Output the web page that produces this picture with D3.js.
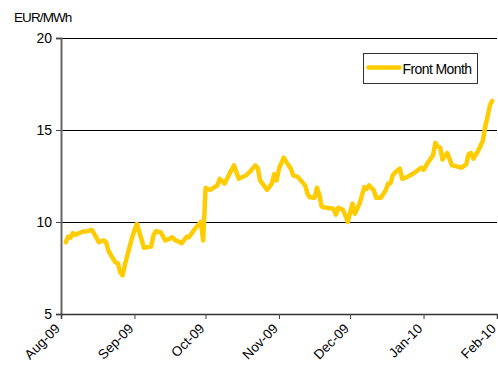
<!DOCTYPE html>
<html>
<head>
<meta charset="utf-8">
<title>Front Month</title>
<script src="https://cdn.jsdelivr.net/npm/d3@7"></script>
<style>
  body { margin: 0; background: #fff; }
  text { font-family: "Liberation Sans", Arial, sans-serif; fill: #000; }
</style>
</head>
<body>
<div id="chart"></div>
<script>
// daily front month price
var dates = ["2009-08-03","2009-08-04","2009-08-05","2009-08-06","2009-08-07","2009-08-10","2009-08-12","2009-08-14",
  "2009-08-15","2009-08-16","2009-08-17","2009-08-19","2009-08-20","2009-08-21","2009-08-23","2009-08-24","2009-08-25",
  "2009-08-26","2009-08-27","2009-08-28","2009-08-31","2009-09-02","2009-09-05","2009-09-08","2009-09-09","2009-09-10",
  "2009-09-12","2009-09-14","2009-09-16","2009-09-17","2009-09-18","2009-09-21","2009-09-23","2009-09-24","2009-09-26",
  "2009-09-28","2009-09-29","2009-09-30","2009-10-01","2009-10-03","2009-10-06","2009-10-07","2009-10-09","2009-10-11",
  "2009-10-13","2009-10-15","2009-10-18","2009-10-20","2009-10-22","2009-10-23","2009-10-24","2009-10-27","2009-10-29",
  "2009-10-30","2009-10-31","2009-11-01","2009-11-03","2009-11-05","2009-11-06","2009-11-07","2009-11-09","2009-11-12",
  "2009-11-13","2009-11-14","2009-11-16","2009-11-17","2009-11-18","2009-11-19","2009-11-21","2009-11-24","2009-11-25",
  "2009-11-26","2009-11-28","2009-11-29","2009-11-30","2009-12-02","2009-12-03","2009-12-05","2009-12-07","2009-12-08",
  "2009-12-09","2009-12-11","2009-12-12","2009-12-14","2009-12-16","2009-12-17","2009-12-18","2009-12-19","2009-12-20",
  "2009-12-22","2009-12-23","2009-12-25","2009-12-28","2009-12-31","2010-01-01","2010-01-03","2010-01-05","2010-01-06",
  "2010-01-07","2010-01-08","2010-01-09","2010-01-11","2010-01-13","2010-01-15","2010-01-17","2010-01-19","2010-01-20",
  "2010-01-21","2010-01-22","2010-01-24","2010-01-26","2010-01-27","2010-01-28","2010-01-29","2010-01-30"];
var prices = [8.9,9.2,9.15,9.4,9.3,9.47,9.5,9.57,
  9.35,9.13,8.9,9.0,8.9,8.45,8.0,7.8,7.75,
  7.26,7.1,7.7,9.17,9.9,8.6,8.67,9.26,9.5,
  9.45,9.0,9.1,9.17,9.03,8.85,9.2,9.17,9.54,
  9.86,10.0,9.0,11.85,11.75,11.99,12.35,12.08,12.6,
  13.08,12.35,12.53,12.77,13.08,12.95,12.26,11.75,12.1,
  12.6,12.26,12.9,13.5,13.08,12.9,12.53,12.44,11.99,
  11.54,11.35,11.32,11.86,11.5,10.84,10.77,10.72,10.4,
  10.77,10.66,10.35,10.0,11.0,10.45,11.0,11.9,11.8,
  11.99,11.72,11.32,11.32,11.72,12.08,12.1,12.53,12.7,
  12.9,12.35,12.44,12.66,12.95,12.84,13.26,13.62,14.3,
  14.1,14.05,13.4,13.75,13.08,13.02,12.95,13.13,13.68,
  13.75,13.44,13.86,14.4,15.17,15.7,16.35,16.58];
var monthTicks = ["2009-08-01","2009-09-01","2009-10-01","2009-11-01","2009-12-01","2010-01-01","2010-02-01"];
var yTicks = [5, 10, 15, 20];
var seriesName = "Front Month";
var unitLabel = "EUR/MWh";

var margin = {top: 38, right: 1, bottom: 66, left: 61},
    width = 498 - margin.left - margin.right,
    height = 380 - margin.top - margin.bottom;

var parse = d3.timeParse("%Y-%m-%d");
var data = dates.map(function(d, i) { return {date: parse(d), value: prices[i]}; });

var svg = d3.select("#chart").append("svg")
    .attr("width", 498)
    .attr("height", 380);

var g = svg.append("g")
    .attr("transform", "translate(" + margin.left + "," + margin.top + ")");

var xScale = d3.scaleTime()
    .domain([parse(monthTicks[0]), parse(monthTicks[monthTicks.length - 1])])
    .range([0, width]);
var yScale = d3.scaleLinear().domain([5, 20]).range([height, 0]);

// horizontal grid lines
g.append("g").selectAll("line")
  .data(yTicks.filter(function(v) { return v > 5; }))
  .enter().append("line")
    .attr("x1", 0).attr("x2", width)
    .attr("y1", function(v) { return Math.round(yScale(v)) + 0.5; })
    .attr("y2", function(v) { return Math.round(yScale(v)) + 0.5; })
    .attr("stroke", "#000").attr("stroke-width", 1);

var yAxis = d3.axisLeft(yScale).tickValues(yTicks).tickSize(5).tickPadding(4);
var gy = g.append("g").call(yAxis);
gy.selectAll("text").style("font-size", "14px");
gy.select(".domain").attr("stroke", "#666").attr("stroke-width", 2);
gy.selectAll(".tick line").attr("stroke", "#444");

var xAxis = d3.axisBottom(xScale)
    .tickValues(monthTicks.map(parse))
    .tickFormat(d3.timeFormat("%b-%y"))
    .tickSize(5);
var gx = g.append("g").attr("transform", "translate(0," + height + ")").call(xAxis);
gx.select(".domain").attr("stroke", "#333").attr("stroke-width", 1.5);
gx.selectAll(".tick line").attr("stroke", "#444");
gx.selectAll("text")
    .style("font-size", "13.5px")
    .attr("text-anchor", "end")
    .attr("x", 0)
    .attr("y", 0)
    .attr("dy", "0.35em")
    .attr("transform", "translate(-4,12) rotate(-45)");

var line = d3.line()
    .x(function(d) { return xScale(d.date); })
    .y(function(d) { return yScale(d.value); });

g.append("path")
    .datum(data)
    .attr("d", line)
    .attr("fill", "none")
    .attr("stroke", "#FFCC00")
    .attr("stroke-width", 4.5)
    .attr("stroke-linejoin", "round")
    .attr("stroke-linecap", "round");

svg.append("text")
    .attr("x", 14).attr("y", 22)
    .style("font-size", "13.5px")
    .style("letter-spacing", "-0.9px")
    .text(unitLabel);

// legend
var lg = svg.append("g").attr("transform", "translate(363.5,53.5)");
lg.append("rect").attr("width", 114).attr("height", 30)
    .attr("fill", "#fff").attr("stroke", "#333").attr("stroke-width", 1);
lg.append("line").attr("x1", 5).attr("x2", 36).attr("y1", 14).attr("y2", 14)
    .attr("stroke", "#FFCC00").attr("stroke-width", 4.5).attr("stroke-linecap", "round");
lg.append("text").attr("x", 39).attr("y", 20)
    .style("font-size", "14px").style("letter-spacing", "-0.6px")
    .text(seriesName);
</script>
</body>
</html>
